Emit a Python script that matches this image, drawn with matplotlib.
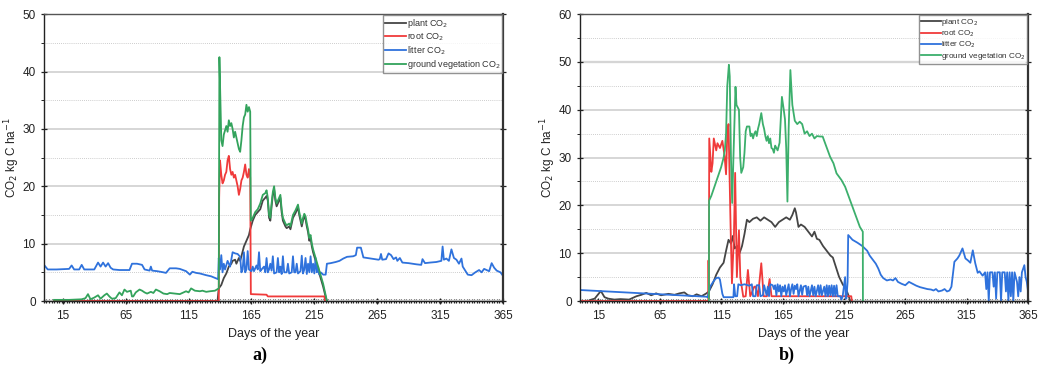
import matplotlib
matplotlib.use("Agg")
import matplotlib.pyplot as plt
from matplotlib.ticker import MultipleLocator

plt.rcParams['font.family'] = ['Liberation Sans', 'DejaVu Sans']

# ---- panel a) ----
a_plant_days = [8, 138, 139, 141, 143, 145, 147, 149, 150, 152, 153, 155, 156, 157, 159, 161, 163, 164, 166, 168,
                170, 172, 174, 176, 177, 178, 179, 180, 181, 182, 183, 184, 185, 186, 188, 189, 190, 192, 193, 195,
                196, 198, 200, 202, 203, 204, 205, 206, 207, 208, 209, 210, 211, 212, 213, 214, 216, 218, 220, 222,
                224, 225]
a_plant = [0, 0, 2.2, 2.8, 4.0, 4.8, 6.0, 6.5, 7.0, 7.2, 6.5, 7.5, 7.0, 7.8, 9.5, 10.5, 11.5, 12.5, 14.0, 15.0,
           15.5, 16.0, 17.5, 18.0, 18.3, 17.5, 14.5, 14.0, 16.5, 18.5, 19.5, 17.5, 16.5, 17.0, 18.0, 15.5, 14.0, 13.0, 12.7, 13.0,
           12.5, 14.5, 15.3, 16.3, 15.0, 14.0, 13.0, 14.0, 14.7, 14.3, 13.0, 12.0, 10.5, 11.0, 9.5, 8.5, 7.0, 5.5, 4.0, 2.5,
           0.7, 0]

a_root_days = [8, 139, 139.3, 140, 141, 142, 143, 144, 145, 146, 147, 148, 149, 150, 151, 152, 153, 154, 155, 156,
               157, 158, 159, 160, 161, 162, 163, 164, 164.5, 177, 178, 223, 223.5]
a_root = [0, 0, 18.0, 24.5, 22.0, 20.5, 21.0, 22.0, 22.5, 24.5, 25.3, 23.0, 22.0, 22.5, 21.5, 22.0, 21.0, 20.0, 18.5, 19.5,
          21.0, 21.5, 22.5, 23.8, 22.0, 21.5, 23.0, 21.5, 1.2, 1.1, 0.8, 0.8, 0]

a_litter_days = [0, 3, 10, 20, 22, 24, 28, 30, 32, 40, 43, 45, 47, 49, 51, 53, 55, 60, 68, 70,
                 74, 78, 80, 84, 85, 86, 90, 95, 97, 100, 105, 108, 113, 116, 118, 121, 124, 129, 133, 138.5,
                 139, 140, 141, 142, 143, 144, 146, 148, 150, 152, 154, 156, 157, 158, 159, 160, 161, 162, 163, 165,
                 166, 167, 169, 170, 171, 172, 173, 175, 176, 177, 178, 179, 180, 181, 182, 183, 185, 186, 187, 188,
                 189, 190, 191, 193, 194, 195, 197, 198, 199, 200, 201, 202, 204, 205, 206, 207, 208, 209, 210, 211,
                 212, 213, 214, 215, 216, 217, 218, 219, 220, 222, 224, 225, 228, 232, 235, 238, 241, 246, 248, 249,
                 252, 254, 260, 266, 267, 268, 269, 272, 274, 276, 278, 280, 281, 283, 285, 290, 296, 300, 301, 303,
                 307, 312, 316, 317, 318, 320, 322, 324, 326, 328, 330, 332, 333, 335, 337, 340, 343, 346, 348, 350,
                 352, 354, 356, 358, 360, 363, 365]
a_litter = [6.3, 5.5, 5.5, 5.6, 6.2, 5.5, 5.5, 6.3, 5.5, 5.5, 6.7, 6.0, 6.7, 6.0, 6.6, 5.8, 5.5, 5.4, 5.4, 6.5,
            6.5, 6.3, 5.5, 5.3, 6.0, 5.3, 5.2, 5.0, 4.9, 5.7, 5.7, 5.6, 5.2, 4.6, 5.1, 4.9, 4.8, 4.5, 4.3, 3.8,
            7.5, 5.5, 8.0, 5.0, 6.5, 5.5, 7.0, 6.0, 8.5, 8.3, 8.2, 7.7, 5.0, 5.5, 8.5, 5.0, 5.5, 8.7, 5.5, 5.2,
            6.0, 5.2, 6.2, 5.5, 8.5, 5.2, 5.5, 6.0, 5.0, 7.5, 5.0, 5.5, 6.5, 5.3, 7.8, 4.8, 5.0, 7.5, 5.0, 6.0,
            4.7, 7.8, 5.0, 5.0, 6.5, 4.8, 5.0, 7.8, 5.0, 5.0, 6.5, 4.8, 5.2, 7.9, 4.8, 5.5, 7.5, 4.7, 6.5, 5.0,
            7.8, 5.0, 6.5, 4.8, 7.5, 5.0, 6.0, 4.6, 5.0, 4.6, 4.6, 6.5, 6.6, 6.8, 7.0, 7.4, 7.7, 7.8, 8.0, 9.3,
            9.3, 7.6, 7.4, 7.2, 7.3, 8.2, 7.2, 7.3, 8.3, 8.0, 7.3, 7.6, 7.0, 7.5, 6.7, 6.6, 6.4, 6.3, 7.3, 6.6,
            6.7, 6.8, 7.0, 9.5, 7.2, 7.4, 7.0, 9.0, 7.5, 7.2, 6.5, 7.4, 6.0, 5.3, 4.6, 4.5, 5.0, 5.4, 5.0, 5.6,
            5.4, 5.2, 6.6, 5.8, 5.3, 5.0, 4.4]

a_ground_days = [8, 20, 30, 33, 35, 37, 40, 43, 45, 48, 50, 52, 54, 57, 60, 62, 64, 66, 69, 70,
                 71, 73, 76, 78, 80, 82, 85, 87, 89, 92, 95, 98, 100, 104, 108, 111, 113, 115, 117, 120,
                 124, 126, 129, 132, 136, 139, 139.5, 140.5, 141, 142, 143, 145, 146, 147, 148, 149, 150, 151, 152, 153,
                 155, 156, 157, 158, 159, 160, 161, 162, 163, 164, 164.5, 166, 168, 170, 172, 174, 176, 177, 178, 179,
                 180, 181, 182, 183, 184, 185, 186, 188, 189, 190, 192, 193, 195, 196, 198, 200, 202, 203, 204, 205,
                 206, 207, 208, 209, 210, 211, 212, 213, 214, 216, 218, 220, 222, 224, 225]
a_ground = [0.2, 0.2, 0.3, 0.5, 1.2, 0.3, 0.6, 1.0, 0.4, 1.0, 1.3, 0.8, 0.4, 0.5, 1.5, 1.0, 2.0, 1.6, 1.8, 0.8,
            0.8, 1.5, 2.0, 1.8, 1.5, 1.3, 1.6, 1.4, 2.0, 1.7, 1.3, 1.2, 1.4, 1.3, 1.2, 1.5, 1.7, 1.5, 2.2, 1.8,
            1.7, 1.8, 1.6, 1.7, 1.8, 2.2, 42.5, 33.0, 28.0, 27.0, 29.0, 30.5, 29.5, 31.5, 30.5, 31.0, 30.0, 28.5, 29.5, 28.5,
            26.5, 26.0, 28.0, 30.5, 32.0, 32.5, 34.2, 33.0, 33.8, 33.0, 14.0, 14.5, 15.5, 16.0, 17.0, 18.5, 18.8, 19.3, 18.0, 15.0,
            14.5, 17.0, 19.0, 20.0, 18.0, 17.0, 17.5, 18.5, 16.0, 14.5, 13.5, 13.2, 13.5, 13.0, 15.0, 15.8, 16.8, 15.5, 14.5, 13.5,
            14.5, 15.2, 14.8, 13.5, 12.5, 11.0, 11.5, 10.0, 9.0, 7.5, 6.0, 4.5, 3.0, 1.0, 0]

# ---- panel b) ----
b_plant_days = [8, 12, 17, 20, 23, 28, 33, 40, 46, 50, 54, 58, 62, 66, 72, 77, 81, 85, 88, 92,
                95, 99, 103, 105, 108, 111, 114, 117, 119, 121, 123, 124.5, 126, 128, 130, 132, 134, 136, 138, 141,
                144, 147, 150, 153, 156, 159, 162, 165, 168, 171, 173, 175, 176, 178, 180, 183, 186, 189, 191, 193,
                195, 198, 201, 204, 206, 208, 211, 214, 217, 219, 220]
b_plant = [0.2, 0.5, 2.1, 0.8, 0.5, 0.3, 0.4, 0.3, 1.0, 1.3, 1.7, 1.2, 1.6, 1.2, 1.5, 1.3, 1.6, 1.8, 1.2, 1.0,
           1.4, 1.0, 1.6, 2.0, 3.5, 5.5, 7.0, 8.0, 10.5, 12.8, 12.0, 13.6, 11.0, 11.5, 10.0, 11.5, 14.0, 17.0, 16.5, 17.2,
           17.5, 16.8, 17.5, 17.0, 16.5, 15.5, 16.5, 17.0, 17.5, 17.0, 18.0, 19.4, 18.5, 15.5, 16.0, 15.5, 14.5, 13.5, 14.5, 13.0,
           12.8, 11.5, 10.5, 9.5, 9.1, 7.5, 5.1, 3.5, 2.3, 1.0, 0]

b_root_days = [0, 104.5, 104.7, 105, 105.3, 107, 108, 109, 111, 112, 114, 116, 117.8, 119, 120, 121, 122.7, 123.8, 125.4, 126.4,
               127.8, 129.5, 130.6, 133, 135, 136.8, 138.7, 142, 143, 145, 147.7, 149.6, 152.3, 154.5, 156, 221, 221.5]
b_root = [0, 0, 8.5, 0.5, 34.0, 27.0, 28.8, 34.0, 31.5, 33.0, 32.0, 33.5, 30.3, 26.5, 35.0, 37.0, 15.5, 3.7, 13.6, 26.8,
          5.0, 14.8, 5.0, 0.9, 1.0, 6.5, 1.0, 3.0, 3.0, 1.0, 7.9, 1.0, 1.0, 4.6, 1.0, 1.0, 0]

b_litter_days = [0, 103, 104, 106, 109, 111, 113, 114, 116, 117, 125, 125.5, 126.5, 128, 129, 131, 134, 138, 140, 141,
                 143, 144, 146, 147, 149, 150, 152, 153, 154, 155, 157, 158, 159, 160, 161, 162, 163, 164, 165, 166,
                 167, 168, 170, 171, 172, 173, 174, 175, 176, 177, 178, 180, 181, 182, 184, 185, 186, 187, 189, 190,
                 191, 192, 194, 195, 196, 197, 199, 200, 201, 202, 203, 204, 205, 206, 207, 208, 209, 210, 212, 213,
                 214, 216, 216.5, 217, 218, 218.5, 222, 226, 230, 234, 236, 239, 241, 243, 245, 247, 250, 253, 255, 257,
                 259, 262, 265, 268, 271, 274, 277, 280, 283, 286, 288, 290, 292, 295, 297, 299, 301, 302.6, 305, 307.5,
                 309, 311.6, 314, 316, 318, 320, 322, 324, 325.4, 328, 330, 331, 332, 333, 334, 336, 337, 338, 339, 340,
                 342, 343, 344, 346, 347, 348, 349, 350, 351, 352, 353, 354, 356, 357, 358, 359, 360, 362, 363, 364,
                 365]
b_litter = [2.3, 0.9, 0.8, 3.0, 4.2, 4.8, 4.9, 4.5, 1.5, 0.8, 0.8, 3.5, 1.0, 1.0, 3.5, 3.3, 3.5, 3.2, 3.5, 1.0,
            1.0, 3.3, 3.3, 1.0, 1.2, 3.3, 1.2, 3.0, 1.0, 3.5, 3.3, 2.5, 3.3, 1.2, 3.5, 2.0, 3.3, 1.0, 3.0, 2.0,
            3.3, 1.2, 3.5, 1.0, 2.5, 3.5, 1.5, 3.2, 2.5, 3.5, 1.0, 3.3, 1.3, 3.0, 3.2, 1.2, 3.0, 1.0, 3.3, 1.2,
            3.0, 1.0, 3.3, 1.3, 3.3, 1.2, 3.0, 1.0, 3.3, 1.0, 3.2, 1.2, 3.3, 1.0, 3.2, 1.0, 3.3, 1.0, 1.0, 0.3,
            1.0, 5.0, 0.5, 0.5, 4.0, 13.8, 12.8, 12.2, 11.5, 10.5, 9.5, 8.5, 7.8, 6.8, 5.5, 4.8, 4.3, 4.5, 4.3, 4.8,
            4.0, 3.6, 3.3, 4.0, 3.6, 3.2, 2.9, 2.7, 2.5, 2.4, 2.2, 2.5, 2.0, 2.2, 2.5, 2.0, 2.2, 3.0, 8.2, 8.9,
            9.5, 11.0, 8.9, 8.5, 8.0, 10.6, 7.9, 5.9, 6.2, 5.3, 6.0, 2.5, 6.0, 0, 6.0, 6.0, 3.0, 6.0, 0.5, 6.0,
            6.0, 0, 6.0, 6.0, 2.0, 6.0, 0, 6.0, 1.0, 6.0, 0, 6.0, 4.0, 1.0, 5.0, 2.0, 6.0, 7.5, 5.0, 4.0,
            2.0]

b_ground_days = [105, 105.2, 107, 109, 111, 113, 115, 117, 118, 119, 120, 121.3, 122, 123, 124, 125, 126.7, 127.5, 128.5, 129.5,
                 130.5, 131.4, 133, 134, 135, 136, 138, 139, 140, 141, 142, 143, 144, 145, 146, 147.7, 149, 150, 151, 152,
                 153, 154, 155, 156, 157, 158, 159, 160, 161, 162.6, 164.5, 166, 167, 168, 169, 170, 171.4, 173, 175, 177,
                 179, 181, 183, 185, 187, 189, 191, 193, 195.6, 197.7, 199.7, 203.7, 206.5, 209, 213, 216, 220, 224, 228, 230.4,
                 230.5]
b_ground = [0, 21.0, 22.0, 23.5, 25.0, 26.5, 28.0, 30.0, 31.5, 35.0, 45.0, 49.4, 47.0, 30.0, 20.5, 30.0, 44.8, 41.0, 40.5, 40.0,
            30.0, 26.8, 28.0, 31.0, 35.5, 36.5, 36.5, 34.5, 35.0, 34.0, 35.0, 35.5, 34.5, 36.0, 37.0, 39.3, 37.0, 36.0, 34.5, 33.5,
            34.5, 33.0, 34.0, 32.0, 31.8, 31.0, 32.5, 32.0, 31.5, 33.1, 42.7, 40.0, 38.0, 32.0, 20.8, 36.0, 48.3, 41.0, 37.7, 37.0,
            37.5, 37.0, 35.0, 35.5, 34.5, 35.0, 34.0, 34.5, 34.4, 34.4, 33.0, 30.2, 28.8, 26.7, 25.3, 23.9, 21.1, 18.3, 15.5, 14.5,
            0]

c_plant = '#454545'
c_root = '#f03a3a'
c_litter = '#2f72dc'
c_ground = '#33a35c'

fig = plt.figure(figsize=(10.42, 3.65), dpi=100)
ax1 = fig.add_axes([0.0422, 0.1753, 0.4405, 0.786])
ax2 = fig.add_axes([0.5566, 0.1753, 0.4300, 0.786])


def style(ax, ymax, legsize, handlelen, lspace):
    ax.set_xlim(0, 365)
    ax.set_ylim(0, ymax)
    ax.set_xticks(range(15, 366, 50))
    ax.xaxis.set_minor_locator(MultipleLocator(2))
    ax.set_yticks(range(0, ymax + 1, 10))
    ax.yaxis.set_minor_locator(MultipleLocator(5))
    ax.grid(which='major', axis='y', color='#d6d6d6', lw=1.4)
    ax.grid(which='minor', axis='y', color='#bdbdbd', lw=0.6, ls=(0, (1, 1.5)))
    ax.set_axisbelow(True)
    ax.tick_params(axis='both', which='major', labelsize=8.5, length=3.5, width=0.9, colors='#222222')
    ax.tick_params(axis='y', which='major', right=True, direction='inout', length=5)
    ax.tick_params(axis='y', which='minor', left=True, length=2, width=0.6)
    ax.tick_params(axis='x', which='minor', length=2.5, width=0.9, direction='inout', color='#222222')
    ax.tick_params(axis='x', which='major', direction='inout', length=5, pad=4)
    for s in ['left', 'bottom']:
        ax.spines[s].set_color('#222222')
        ax.spines[s].set_linewidth(1.0)
    ax.spines['right'].set_color('#333333')
    ax.spines['right'].set_linewidth(1.6)
    ax.spines['top'].set_color('#555555')
    ax.spines['top'].set_linewidth(1.0)
    ax.set_xlabel('Days of the year', fontsize=9, labelpad=4, color='#222222')
    ax.set_ylabel('CO$_2$ kg C ha$^{-1}$', fontsize=8.5, labelpad=0, color='#222222')
    leg = ax.legend(loc='upper right', fontsize=legsize, handlelength=handlelen, frameon=True, fancybox=False,
                    edgecolor='#777777', borderpad=0.2, labelspacing=lspace, handletextpad=0.05,
                    borderaxespad=0.1)
    leg.get_frame().set_linewidth(1.0)
    for t in leg.get_texts():
        t.set_color('#333333')


lw = 1.3
ax1.plot(a_plant_days, a_plant, color=c_plant, lw=lw, label='plant CO$_2$')
ax1.plot(a_root_days, a_root, color=c_root, lw=lw, label='root CO$_2$')
ax1.plot(a_litter_days, a_litter, color=c_litter, lw=lw, label='litter CO$_2$')
ax1.plot(a_ground_days, a_ground, color=c_ground, lw=lw, label='ground vegetation CO$_2$')
style(ax1, 50, 6.5, 2.4, 0.15)

ax2.plot(b_plant_days, b_plant, color=c_plant, lw=lw, label='plant CO$_2$')
ax2.plot(b_root_days, b_root, color=c_root, lw=lw, label='root CO$_2$')
ax2.plot(b_litter_days, b_litter, color=c_litter, lw=lw, label='litter CO$_2$')
ax2.plot(b_ground_days, b_ground, color='#3caf6c', lw=lw, label='ground vegetation CO$_2$')
style(ax2, 60, 5.9, 2.4, 0.1)
ax2.axhline(50, color='#c8c8c8', lw=1.6, zorder=0.5)

fig.text(0.2495, 0.027, 'a)', ha='center', va='center', fontsize=13, fontweight='bold', family='Liberation Serif')
fig.text(0.755, 0.027, 'b)', ha='center', va='center', fontsize=13, fontweight='bold', family='Liberation Serif')

fig.savefig('out.png', dpi=100)
